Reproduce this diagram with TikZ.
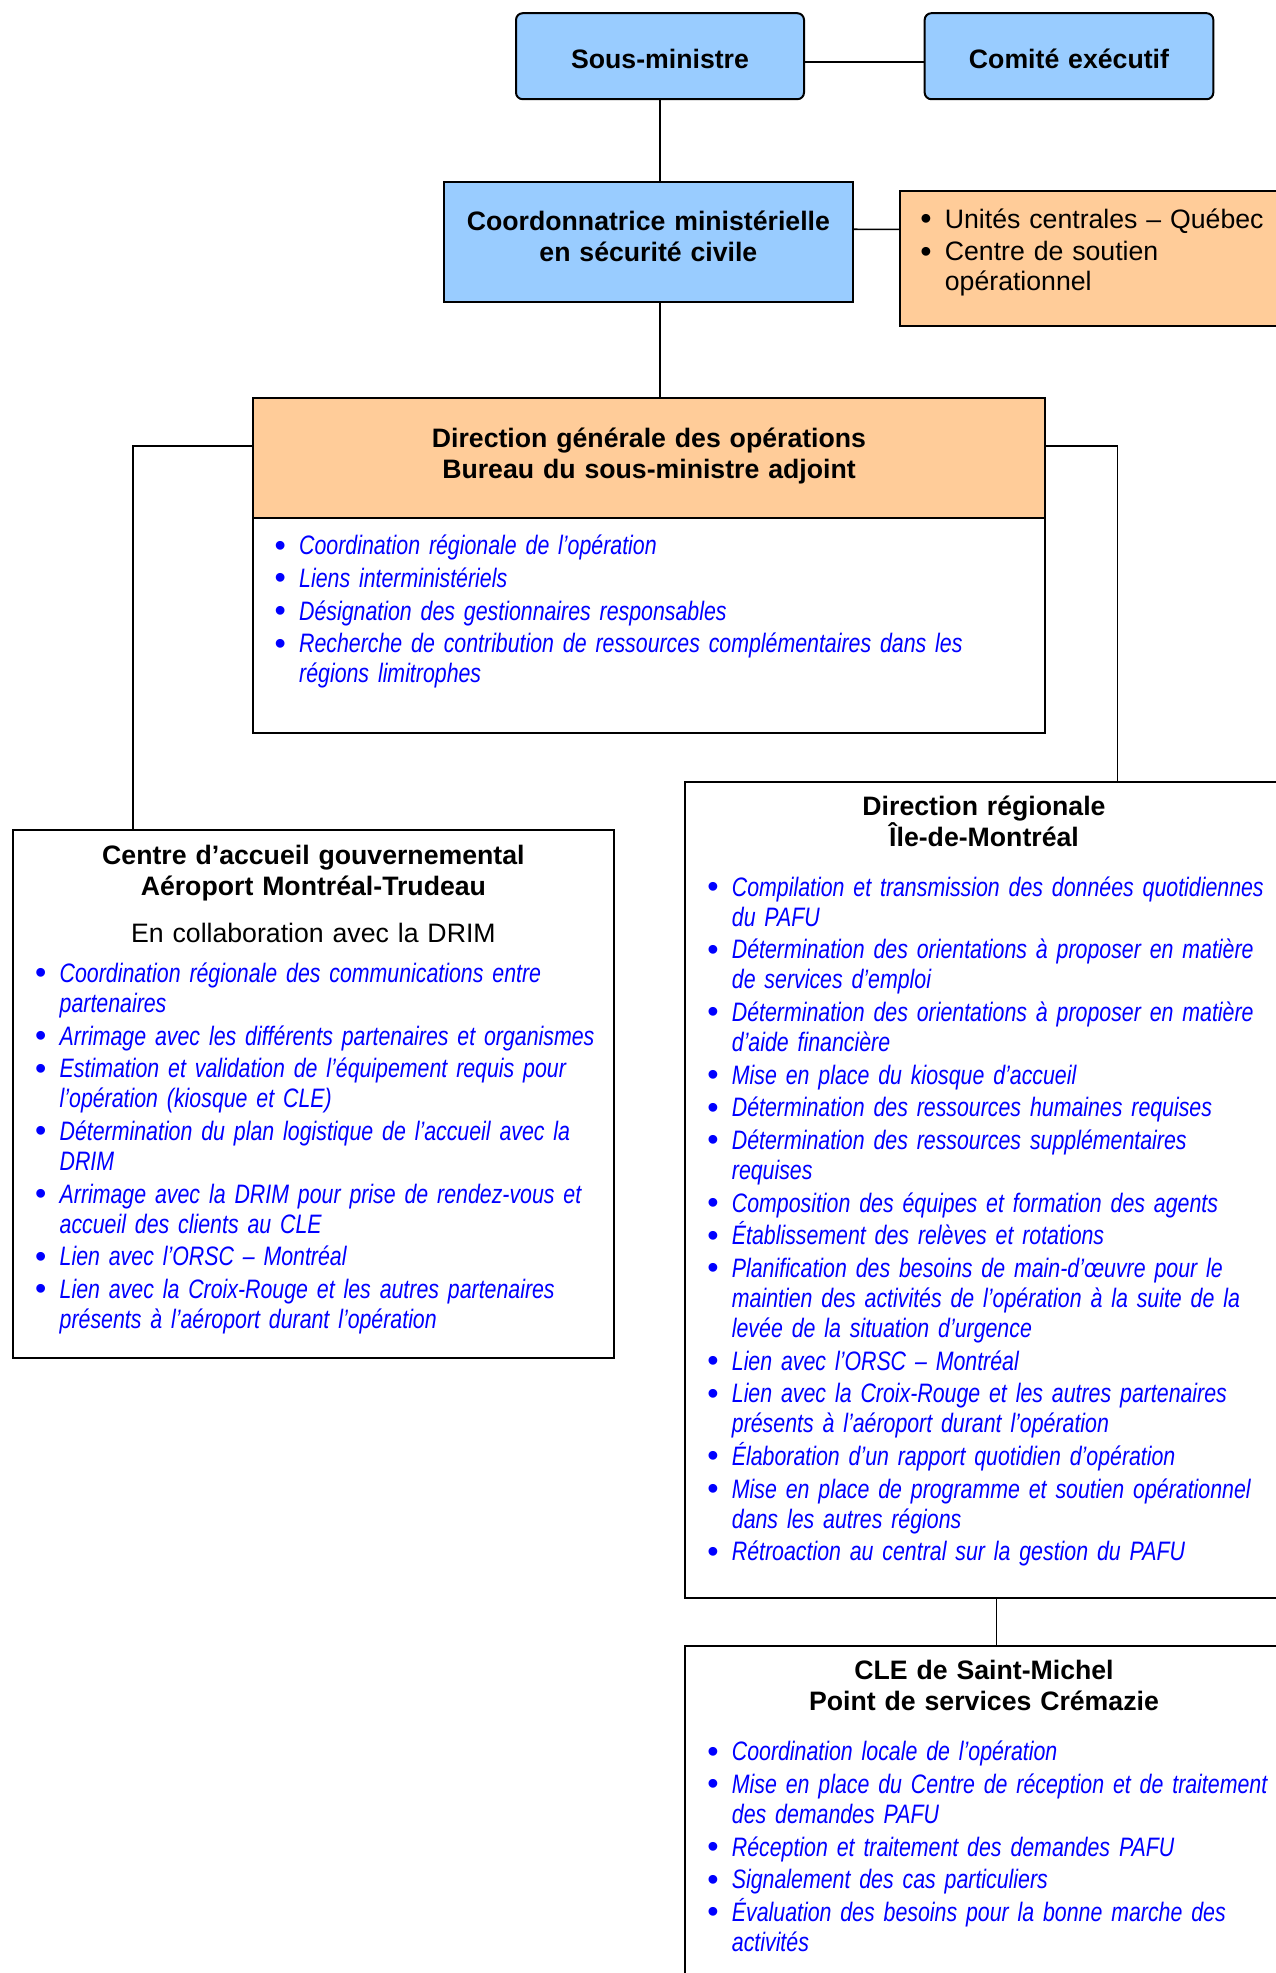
\documentclass[tikz,border=0pt]{standalone}
\usepackage{fontspec}
\setmainfont{Liberation Sans}
\newfontfamily\narrowfont[FakeStretch=0.80]{Liberation Sans}
\usepackage{xcolor}
\usepackage{tikz}
\definecolor{boxblue}{RGB}{153,204,255}
\definecolor{boxorange}{RGB}{255,204,153}
\definecolor{listblue}{RGB}{0,0,255}
\newcommand{\px}{0.45pt}
\newcommand{\itemcolour}{listblue}
\newlength{\bulletwd}\setlength{\bulletwd}{11pt}
\newcommand{\bitem}[1]{\parskip=1.2pt\hangindent=\bulletwd\hangafter=1\noindent\textcolor{\itemcolour}{\makebox[\bulletwd][l]{\normalfont\fontsize{14.5}{14}\selectfont\raisebox{-0.6pt}{\textbullet}}#1}\par}

\begin{document}
\begin{tikzpicture}[x=\px, y=-\px,
  box/.style={draw, line width=0.9pt, inner sep=0pt},
  title/.style={inner sep=0pt, anchor=base, align=center, text width=300pt, font=\bfseries\fontsize{12}{14}\selectfont},
  duties/.style={inner sep=0pt, anchor=base west, align=left, text width=300pt, font=\narrowfont\itshape\fontsize{12}{13.5}\selectfont},
  link/.style={line width=0.7pt}]
\useasboundingbox (0,0) rectangle (1276,1973);

\node[box, rounded corners=3pt, fill=boxblue, minimum width=129.6pt, minimum height=38.7pt] (sm) at (660,56.2) {};
\node[box, rounded corners=3pt, fill=boxblue, minimum width=129.9pt, minimum height=38.7pt] (ce) at (1069,56.2) {};
\node[box, fill=boxblue, minimum width=183.7pt, minimum height=54pt] (coord) at (648.4,241.7) {};
\node[box, fill=boxorange, minimum width=173.3pt, minimum height=60.6pt] (unites) at (1092.5,258.3) {};
\node[box, minimum width=356.8pt, minimum height=150.9pt] (dg) at (649,565.7) {};
\node[box, fill=boxorange, minimum width=356.8pt, minimum height=53.9pt] (hdr) at (649,457.8) {};
\node[box, minimum width=270.3pt, minimum height=237.7pt] (ca) at (313.4,1093.9) {};
\node[box, minimum width=269.3pt, minimum height=367.2pt] (dr) at (983.8,1189.7) {};
\node[box, minimum width=269.3pt, minimum height=154.9pt] (cle) at (983.8,1817.9) {};

\draw[link] ([yshift=-2.5pt]sm.east) -- ([yshift=-2.5pt]ce.west);
\draw[link] (sm.south) -- (sm.south |- coord.north);
\draw[link] (coord.south -| sm.south) -- (hdr.north -| sm.south);
\draw[link] ([yshift=5.6pt]coord.east) -- ([yshift=13pt]unites.west);
\draw[link] ([yshift=5.3pt]hdr.west) -| ([xshift=-81.2pt]ca.north);
\draw[link] ([yshift=5.3pt]hdr.east) -| ([xshift=60.1pt]dr.north);
\draw[link] ([xshift=5.8pt]dr.south) -- ([xshift=5.8pt]cle.north);

\node[title] (smtxt) at (660,68) {Sous-ministre};
\node[title] (cetxt) at (1069,68) {Comité exécutif};
\node[title] (coordtxt) at (648.4,230.7) {Coordonnatrice ministérielle\\en sécurité civile};
\node[duties, font=\fontsize{12}{13.5}\selectfont, text width=170pt] (unitestxt) at (920,228) {%
\def\itemcolour{black}%
\bitem{Unités centrales – Québec}
\bitem{Centre de soutien\newline opérationnel}};
\node[title] (hdrtxt) at (649,447.3) {Direction générale des opérations\\Bureau du sous-ministre adjoint};
\node[duties, text width=340pt] (dgtxt) at (274.3,554.7) {%
\bitem{Coordination régionale de l’opération}
\bitem{Liens interministériels}
\bitem{Désignation des gestionnaires responsables}
\bitem{Recherche de contribution de ressources complémentaires dans les\newline régions limitrophes}};
\node[title] (catxt) at (313.4,864.8) {Centre d’accueil gouvernemental\\Aéroport Montréal-Trudeau};
\node[title, font=\fontsize{12}{14}\selectfont] (collab) at (313.4,942) {En collaboration avec la DRIM};
\node[duties] (calist) at (34.8,982.4) {%
\bitem{Coordination régionale des communications entre\newline partenaires}
\bitem{Arrimage avec les différents partenaires et organismes}
\bitem{Estimation et validation de l’équipement requis pour\newline l’opération (kiosque et CLE)}
\bitem{Détermination du plan logistique de l’accueil avec la\newline DRIM}
\bitem{Arrimage avec la DRIM pour prise de rendez-vous et\newline accueil des clients au CLE}
\bitem{Lien avec l’ORSC – Montréal}
\bitem{Lien avec la Croix-Rouge et les autres partenaires\newline présents à l’aéroport durant l’opération}};
\node[title] (drtxt) at (984,815) {Direction régionale\\Île-de-Montréal};
\node[duties] (drlist) at (707,896.3) {%
\bitem{Compilation et transmission des données quotidiennes\newline du PAFU}
\bitem{Détermination des orientations à proposer en matière\newline de services d’emploi}
\bitem{Détermination des orientations à proposer en matière\newline d’aide financière}
\bitem{Mise en place du kiosque d’accueil}
\bitem{Détermination des ressources humaines requises}
\bitem{Détermination des ressources supplémentaires\newline requises}
\bitem{Composition des équipes et formation des agents}
\bitem{Établissement des relèves et rotations}
\bitem{Planification des besoins de main-d’œuvre pour le\newline maintien des activités de l’opération à la suite de la\newline levée de la situation d’urgence}
\bitem{Lien avec l’ORSC – Montréal}
\bitem{Lien avec la Croix-Rouge et les autres partenaires\newline présents à l’aéroport durant l’opération}
\bitem{Élaboration d’un rapport quotidien d’opération}
\bitem{Mise en place de programme et soutien opérationnel\newline dans les autres régions}
\bitem{Rétroaction au central sur la gestion du PAFU}};
\node[title] (cletxt) at (984,1679.7) {CLE de Saint-Michel\\Point de services Crémazie};
\node[duties] (clelist) at (707,1760.7) {%
\bitem{Coordination locale de l’opération}
\bitem{Mise en place du Centre de réception et de traitement\newline des demandes PAFU}
\bitem{Réception et traitement des demandes PAFU}
\bitem{Signalement des cas particuliers}
\bitem{Évaluation des besoins pour la bonne marche des\newline activités}};
\end{tikzpicture}
\end{document}
